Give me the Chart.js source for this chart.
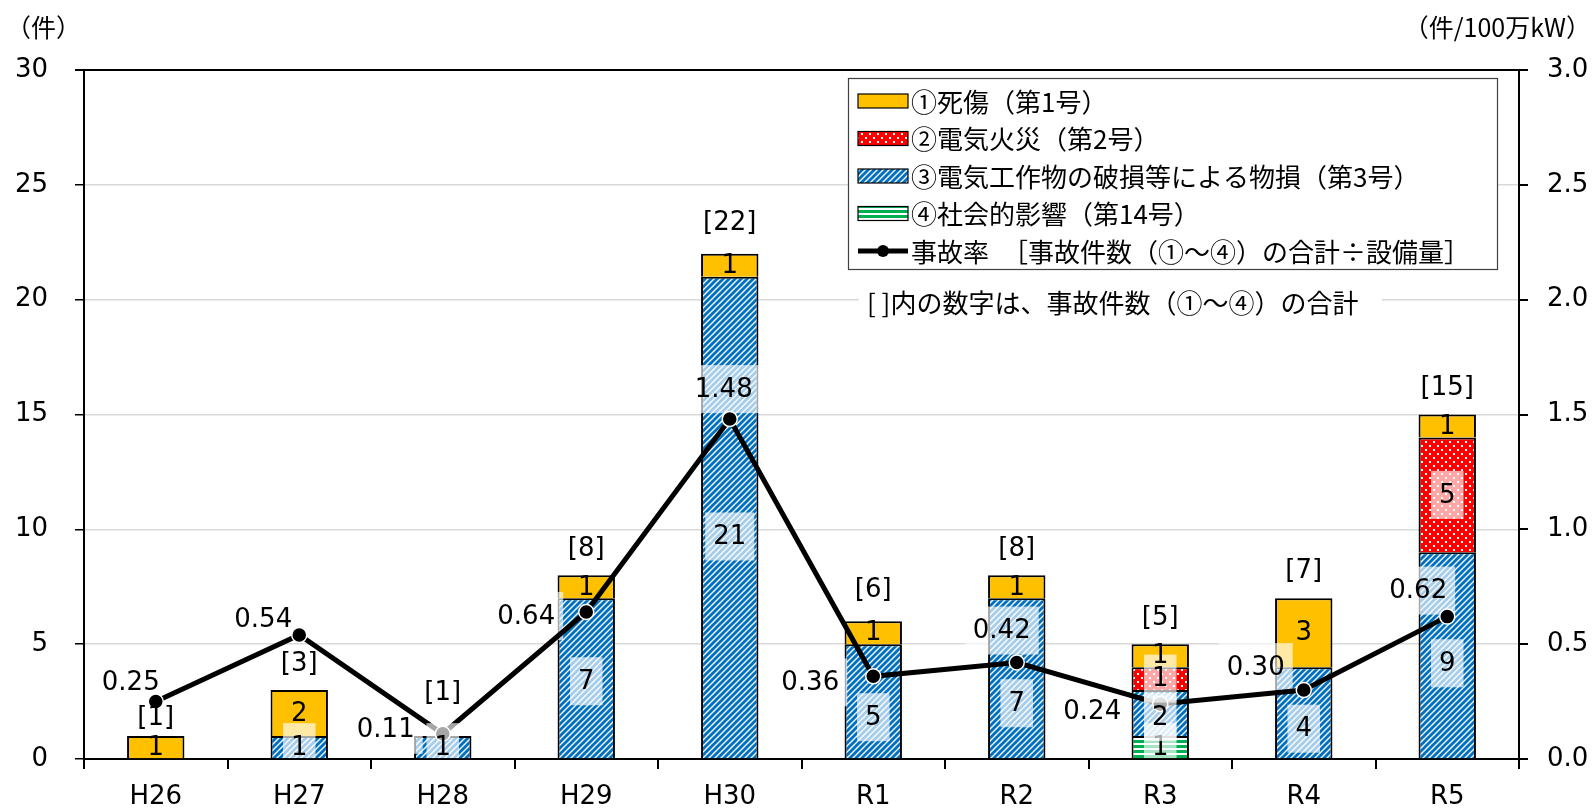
<!DOCTYPE html>
<html lang="ja">
<head>
<meta charset="UTF-8">
<title>事故件数と事故率</title>
<script src="https://cdn.jsdelivr.net/npm/chart.js"></script>
<style>
  body { margin: 0; background: #fff; }
  #wrap { width: 1593px; height: 809px; }
</style>
</head>
<body>
<div id="wrap"><canvas id="accidentChart" width="1593" height="809"></canvas></div>
<script>
// --- data ---
const categories = ['H26', 'H27', 'H28', 'H29', 'H30', 'R1', 'R2', 'R3', 'R4', 'R5'];
const casualty = [1, 2, 0, 1, 1, 1, 1, 1, 3, 1];      // ①死傷
const fire = [0, 0, 0, 0, 0, 0, 0, 1, 0, 5];          // ②電気火災
const damage = [0, 1, 1, 7, 21, 5, 7, 2, 4, 9];       // ③物損
const social = [0, 0, 0, 0, 0, 0, 0, 1, 0, 0];        // ④社会的影響
const totals = [1, 3, 1, 8, 22, 6, 8, 5, 7, 15];
const accidentRate = [0.25, 0.54, 0.11, 0.64, 1.48, 0.36, 0.42, 0.24, 0.30, 0.62];

// label placement (pixels), tuned by eye against the original
const damageLabelShift = [0, 0, 0, 3, 19, 16, 25, 4, 16, 8];
const rateLabelDx = [-25, -36, -57, -60, -6, -63, -15, -68, -48, -29];
const rateLabelDy = [-19, -16, -4, 4, -30, 6, -32, 7, -23, -26];
const totalLift = [18, 26, 43, 26, 30, 31, 26, 26, 27, 26];

const FONT = "'DejaVu Sans', 'Noto Sans CJK JP', sans-serif";
const JFONT = "'Noto Sans CJK JP', 'DejaVu Sans', sans-serif";
const NUM_SIZE = 26;

// patterns
function makePattern(w, h, paint) {
  const c = document.createElement('canvas');
  c.width = w; c.height = h;
  const g = c.getContext('2d');
  paint(g);
  return g.createPattern(c, 'repeat');
}
const ctx0 = document.getElementById('accidentChart').getContext('2d');

const yellow = '#FFC000';
const redDots = makePattern(8, 8, g => {
  g.fillStyle = '#FF0000'; g.fillRect(0, 0, 8, 8);
  g.fillStyle = '#fff';
  g.fillRect(1, 1, 2, 2); g.fillRect(5, 5, 2, 2);
});
const blueHatch = makePattern(6, 6, g => {
  g.fillStyle = '#fff'; g.fillRect(0, 0, 6, 6);
  g.strokeStyle = '#0070C0'; g.lineWidth = 2.9;
  g.beginPath();
  g.moveTo(-1, 7); g.lineTo(7, -1);
  g.moveTo(-1, 1); g.lineTo(1, -1);
  g.moveTo(5, 7); g.lineTo(7, 5);
  g.stroke();
});
const greenStripes = makePattern(4, 5, g => {
  g.fillStyle = '#fff'; g.fillRect(0, 0, 4, 5);
  g.fillStyle = '#00B050'; g.fillRect(0, 0, 4, 3);
});

const nz = arr => arr.map(v => v === 0 ? null : v);

function boxLabel(ctx, text, x, y, withBox) {
  if (withBox) {
    const w = ctx.measureText(text).width + 16;
    const h = 48;
    ctx.fillStyle = 'rgba(255,255,255,0.65)';
    ctx.fillRect(x - w / 2, y - h / 2, w, h);
  }
  ctx.fillStyle = '#000';
  ctx.fillText(text, x, y + 1);
}

function clipArea(ctx, area) {
  ctx.beginPath();
  ctx.rect(area.left + 1, area.top, area.right - area.left - 2, area.bottom - area.top - 1);
  ctx.clip();
}

const labelPlugin = {
  id: 'labelPlugin',
  // rate labels sit under the line but over the bars
  beforeDatasetDraw(chart, args) {
    if (args.index !== 4) return;
    const ctx = chart.ctx;
    ctx.save();
    clipArea(ctx, chart.chartArea);
    ctx.font = NUM_SIZE + 'px ' + FONT;
    ctx.textAlign = 'center';
    ctx.textBaseline = 'middle';
    const lineMeta = chart.getDatasetMeta(4);
    accidentRate.forEach((v, j) => {
      const p = lineMeta.data[j];
      boxLabel(ctx, v.toFixed(2), p.x + rateLabelDx[j], p.y + rateLabelDy[j], true);
    });
    ctx.restore();
  },
  afterDatasetsDraw(chart) {
    const ctx = chart.ctx;
    ctx.save();
    clipArea(ctx, chart.chartArea);
    ctx.font = NUM_SIZE + 'px ' + FONT;
    ctx.textAlign = 'center';
    ctx.textBaseline = 'middle';

    const series = [social, damage, fire, casualty];
    series.forEach((vals, i) => {
      const meta = chart.getDatasetMeta(i);
      vals.forEach((v, j) => {
        if (!v) return;
        const el = meta.data[j];
        const shift = vals === damage ? damageLabelShift[j] : 0;
        boxLabel(ctx, String(v), el.x, (el.y + el.base) / 2 + shift, vals !== casualty);
      });
    });
    ctx.restore();

    // totals in brackets
    ctx.save();
    ctx.font = NUM_SIZE + 'px ' + FONT;
    ctx.textAlign = 'center';
    ctx.textBaseline = 'middle';
    ctx.fillStyle = '#000';
    const topMeta = chart.getDatasetMeta(3);
    const ys = chart.scales.y;
    totals.forEach((t, j) => {
      const x = topMeta.data[j].x;
      ctx.fillText('[' + t + ']', x, ys.getPixelForValue(t) - totalLift[j]);
    });
    ctx.restore();
  },
  afterDraw(chart) {
    const ctx = chart.ctx;
    ctx.save();
    // axis unit titles
    ctx.fillStyle = '#000';
    ctx.textBaseline = 'middle';
    ctx.font = '25px ' + JFONT;
    ctx.textAlign = 'left';
    ctx.fillText('（件）', 6, 27);
    ctx.textAlign = 'right';
    ctx.fillText('（件/100万kW）', 1591, 27);

    // legend box
    const lx = 848, ly = 78, lw = 649, lh = 191;
    ctx.fillStyle = '#fff';
    ctx.fillRect(lx, ly, lw, lh);
    ctx.strokeStyle = '#404040';
    ctx.lineWidth = 1.2;
    ctx.strokeRect(lx + 0.5, ly + 0.5, lw, lh);

    const items = [
      { fill: yellow, text: '①死傷（第1号）' },
      { fill: redDots, text: '②電気火災（第2号）' },
      { fill: blueHatch, text: '③電気工作物の破損等による物損（第3号）' },
      { fill: greenStripes, text: '④社会的影響（第14号）' },
      { line: true, text: '事故率　［事故件数（①～④）の合計÷設備量］' }
    ];
    ctx.font = '26px ' + JFONT;
    ctx.textAlign = 'left';
    items.forEach((it, i) => {
      const cy = 101 + i * 37.5;
      if (it.line) {
        ctx.strokeStyle = '#000'; ctx.lineWidth = 5;
        ctx.beginPath(); ctx.moveTo(858, cy); ctx.lineTo(908, cy); ctx.stroke();
        ctx.fillStyle = '#000';
        ctx.beginPath(); ctx.arc(883, cy, 6, 0, Math.PI * 2); ctx.fill();
      } else {
        ctx.fillStyle = it.fill;
        ctx.fillRect(858, cy - 7, 50, 14);
        ctx.strokeStyle = '#000'; ctx.lineWidth = 1.2;
        ctx.strokeRect(858, cy - 7, 50, 14);
      }
      ctx.fillStyle = '#000';
      ctx.fillText(it.text, 911, cy + 1);
    });

    // note under the legend
    ctx.fillStyle = '#fff';
    ctx.fillRect(859, 284, 523, 36);
    ctx.fillStyle = '#000';
    ctx.fillText('[ ]内の数字は、事故件数（①～④）の合計', 867, 303);
    ctx.restore();
  }
};

const barCommon = {
  type: 'bar',
  borderColor: '#000',
  borderWidth: { top: 2, left: 2, right: 2, bottom: 0 },
  borderSkipped: false,
  barPercentage: 0.4,
  categoryPercentage: 1,
  yAxisID: 'y',
  order: 1
};

new Chart(ctx0, {
  type: 'bar',
  data: {
    labels: categories,
    datasets: [
      Object.assign({ label: '④社会的影響（第14号）', data: nz(social), backgroundColor: greenStripes }, barCommon),
      Object.assign({ label: '③電気工作物の破損等による物損（第3号）', data: nz(damage), backgroundColor: blueHatch }, barCommon),
      Object.assign({ label: '②電気火災（第2号）', data: nz(fire), backgroundColor: redDots }, barCommon),
      Object.assign({ label: '①死傷（第1号）', data: nz(casualty), backgroundColor: yellow }, barCommon),
      {
        type: 'line',
        label: '事故率',
        data: accidentRate,
        yAxisID: 'y1',
        borderColor: '#000',
        borderWidth: 5,
        pointRadius: 7.5,
        pointBackgroundColor: '#000',
        pointBorderColor: '#fff',
        pointBorderWidth: 1.5,
        tension: 0,
        order: 0
      }
    ]
  },
  options: {
    responsive: false,
    animation: false,
    layout: { padding: { top: 70, left: 0, right: 0, bottom: 0 } },
    plugins: {
      legend: { display: false },
      tooltip: { enabled: false }
    },
    scales: {
      x: {
        stacked: true,
        grid: { offset: true, drawOnChartArea: false, tickColor: '#000', tickLength: 10, lineWidth: 2 },
        border: { color: '#000', width: 2 },
        ticks: { color: '#000', font: { size: NUM_SIZE, family: FONT }, padding: 13 },
        afterFit(s) { s.height = 50; }
      },
      y: {
        stacked: true,
        min: 0,
        max: 30,
        grid: {
          color: c => c.tick && c.tick.value === 30 ? '#000' : '#d9d9d9',
          lineWidth: c => c.tick && c.tick.value === 30 ? 2 : 1.5,
          tickColor: '#000',
          tickLength: 9
        },
        border: { color: '#000', width: 2 },
        ticks: { stepSize: 5, color: '#000', font: { size: NUM_SIZE, family: FONT }, padding: 27 },
        afterFit(s) { s.width = 84; }
      },
      y1: {
        position: 'right',
        min: 0,
        max: 3,
        grid: { drawOnChartArea: false, tickColor: '#000', tickLength: 9, lineWidth: 2 },
        border: { color: '#000', width: 2 },
        ticks: {
          stepSize: 0.5,
          color: '#000',
          font: { size: NUM_SIZE, family: FONT },
          padding: 19,
          callback: v => Number(v).toFixed(1)
        },
        afterFit(s) { s.width = 74; }
      }
    }
  },
  plugins: [labelPlugin]
});
</script>
</body>
</html>
